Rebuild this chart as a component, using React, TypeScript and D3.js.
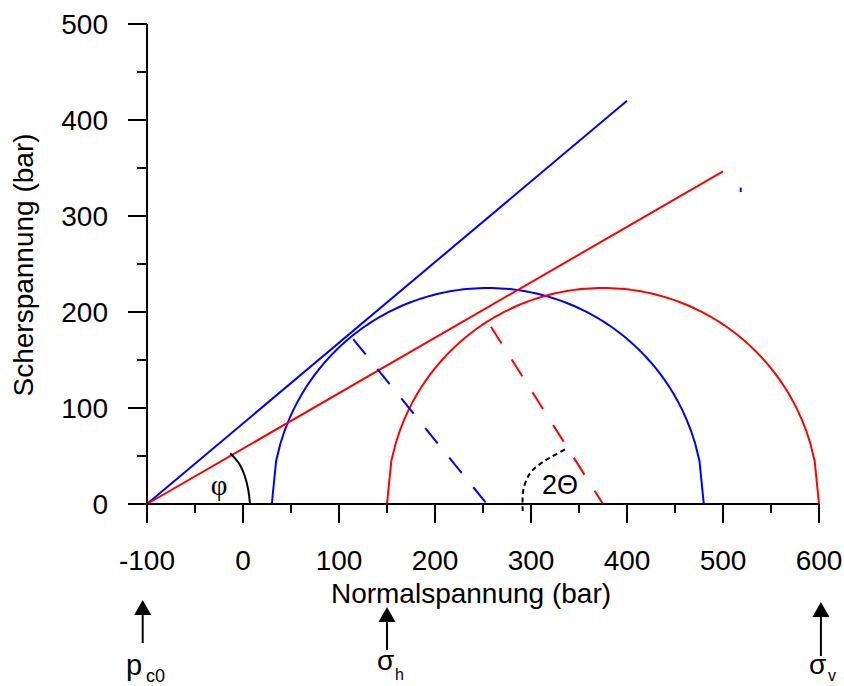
import React from "react";
import * as d3 from "d3";

const xMajorTicks = [-100, 0, 100, 200, 300, 400, 500, 600];
const xMinorTicks = [-50, 50, 150, 250, 350, 450, 550];
const yMajorTicks = [0, 100, 200, 300, 400, 500];
const yMinorTicks = [50, 150, 250, 350, 450];

// Mohr circles: [sigma3, sigma1]
const blueCircle = [30, 480];
const redCircle = [150, 600];

// failure envelopes
const blueEnvelope: [number, number][] = [[-100, 0], [400, 420]];
const redEnvelope: [number, number][] = [[-100, 0], [500, 346.4]];

// dashed radii (from circle to centre)
const blueRadius: [number, number][] = [[114.9, 171.6], [254, 0]];
const redRadius: [number, number][] = [[258.3, 184.7], [375, 0]];

// angle marks
const phiArc: [number, number][] = [[-13.5, 52.8], [-8.3, 47.6], [-3.1, 40.6], [2.1, 28.4], [5.5, 14.6], [7.3, 0]];
const thetaArc: [number, number][] = [[291.4, -7.3], [292, 14.6], [299, 32], [309.4, 41.7], [321.6, 49.3], [335.4, 57]];

const strayMark: [number, number][] = [[518.4, 325], [518.4, 329.5]];

const arrowX = [-104.5, 150, 602];

const W = 844;
const H = 686;

export default function App() {
  const x = d3.scaleLinear().domain([-100, 600]).range([147, 819]);
  const y = d3.scaleLinear().domain([0, 500]).range([504, 24]);
  const line = d3.line<[number, number]>().x((d) => x(d[0])).y((d) => y(d[1]));
  const smooth = d3.line<[number, number]>().x((d) => x(d[0])).y((d) => y(d[1])).curve(d3.curveCatmullRom);

  const circlePts = (c: number[]) => {
    const [a, b] = c;
    const ctr = (a + b) / 2;
    const r = (b - a) / 2;
    const n = 100;
    const pts: [number, number][] = d3.range(n + 1).map((i) => {
      const xv = a + ((b - a) * i) / n;
      const dv = xv - ctr;
      return [xv, Math.sqrt(Math.max(0, r * r - dv * dv))];
    });
    return pts;
  };

  const font = "Liberation Sans, Arial, sans-serif";
  const arrowTops = [600, 607, 602];
  const arrowBottoms = [643, 650, 656];

  return (
    <svg width={W} height={H} style={{ position: "absolute", left: 0, top: 0, background: "#fff" }} fontFamily={font}>
      {/* circles */}
      <path d={line(circlePts(blueCircle)) || ""} fill="none" stroke="#0000ff" strokeWidth={2} />
      <path d={line(circlePts(redCircle)) || ""} fill="none" stroke="#ff0000" strokeWidth={2} />
      {/* envelopes */}
      <path d={line(blueEnvelope) || ""} fill="none" stroke="#0000ff" strokeWidth={2} />
      <path d={line(redEnvelope) || ""} fill="none" stroke="#ff0000" strokeWidth={2} />
      {/* dashed radii */}
      <path d={line(blueRadius) || ""} fill="none" stroke="#0000ff" strokeWidth={2} strokeDasharray="19.6 18.5" />
      <path d={line(redRadius) || ""} fill="none" stroke="#ff0000" strokeWidth={2} strokeDasharray="19.8 19" />
      <path d={line(strayMark) || ""} fill="none" stroke="#0000ff" strokeWidth={2} />
      {/* angle arcs */}
      <path d={smooth(phiArc) || ""} fill="none" stroke="#000" strokeWidth={2} />
      <path d={smooth(thetaArc) || ""} fill="none" stroke="#000" strokeWidth={2} strokeDasharray="5 3.5" />
      <text x={219} y={495} fontFamily="Liberation Serif, Times New Roman, serif" fontSize={29} textAnchor="middle">φ</text>
      <text x={542} y={494} fontSize={27}>2Θ</text>

      {/* axes */}
      <line x1={x(-100)} x2={x(600)} y1={y(0)} y2={y(0)} stroke="#000" strokeWidth={2} />
      <line x1={x(-100)} x2={x(-100)} y1={y(0)} y2={y(500)} stroke="#000" strokeWidth={2} />
      {xMajorTicks.map((t) => (
        <g key={"xm" + t}>
          <line x1={x(t)} x2={x(t)} y1={y(0)} y2={y(0) + 19} stroke="#000" strokeWidth={2} />
          <text x={x(t)} y={570} fontSize={28} textAnchor="middle">{t}</text>
        </g>
      ))}
      {xMinorTicks.map((t) => (
        <line key={"xn" + t} x1={x(t)} x2={x(t)} y1={y(0)} y2={y(0) + 9} stroke="#000" strokeWidth={2} />
      ))}
      {yMajorTicks.map((t) => (
        <g key={"ym" + t}>
          <line x1={x(-100) - 19} x2={x(-100)} y1={y(t)} y2={y(t)} stroke="#000" strokeWidth={2} />
          <text x={108} y={y(t) + 10} fontSize={28} textAnchor="end">{t}</text>
        </g>
      ))}
      {yMinorTicks.map((t) => (
        <line key={"yn" + t} x1={x(-100) - 10} x2={x(-100)} y1={y(t)} y2={y(t)} stroke="#000" strokeWidth={2} />
      ))}
      <text x={471} y={603} fontSize={28} textAnchor="middle">Normalspannung (bar)</text>
      <text transform="translate(33,265) rotate(-90)" fontSize={28} textAnchor="middle">Scherspannung (bar)</text>

      {/* arrows */}
      {arrowX.map((v, i) => (
        <g key={"ar" + i}>
          <line x1={x(v)} x2={x(v)} y1={arrowTops[i] + 12} y2={arrowBottoms[i]} stroke="#000" strokeWidth={2} />
          <path d={`M${x(v)},${arrowTops[i]} L${x(v) - 8.5},${arrowTops[i] + 15} L${x(v) + 8.5},${arrowTops[i] + 15} Z`} fill="#000" />
        </g>
      ))}
      <text x={126} y={675} fontSize={29}>p</text>
      <text x={146} y={682} fontSize={18}>c0</text>
      <text x={377} y={670} fontSize={28}>σ</text>
      <text x={395} y={680} fontSize={16}>h</text>
      <text x={809} y={674} fontSize={28}>σ</text>
      <text x={828} y={681} fontSize={16}>v</text>
    </svg>
  );
}
